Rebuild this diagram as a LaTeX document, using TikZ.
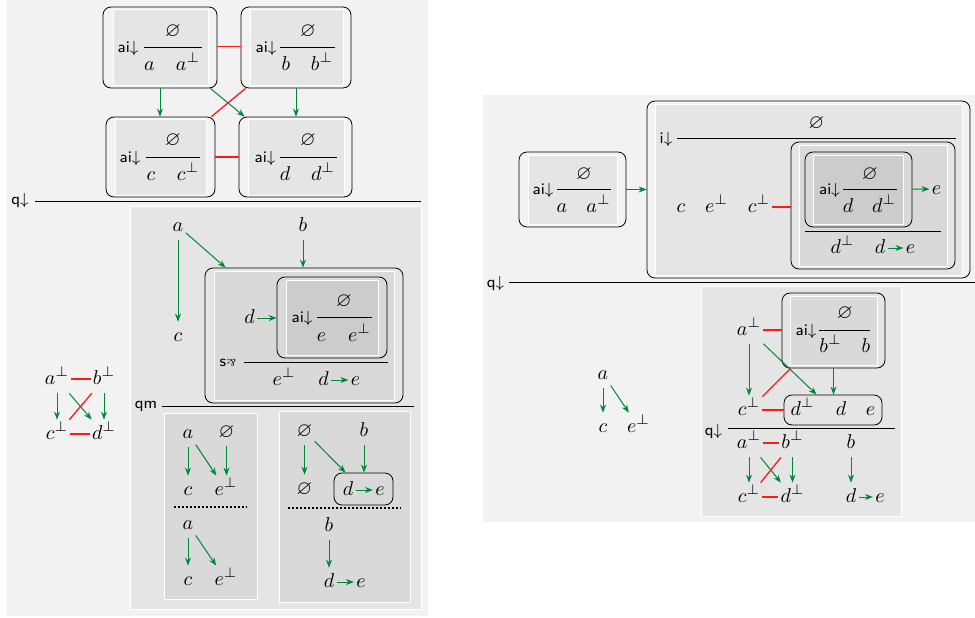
\documentclass[tikz,border=0pt]{standalone}
\usepackage{amsmath, amssymb}
\usepackage{graphicx}
\usetikzlibrary{arrows.meta, positioning, fit, calc}
\definecolor{flowgreen}{RGB}{0,136,55}

\begin{document}
\begin{tikzpicture}[x=0.5pt, y=-0.5pt,
    bgpanel/.style={fill=gray!10},
    shadeone/.style={fill=gray!20, draw=white, inner sep=0},
    shadetwo/.style={fill=gray!30, draw=white, inner sep=0},
    shadethree/.style={fill=gray!40, draw=white, inner sep=0},
    derivbox/.style={draw, rounded corners=4pt, inner sep=0},
    atom/.style={anchor=base, inner sep=1pt, text height=8.5pt, text depth=3.5pt},
    rulelab/.style={font=\footnotesize\sffamily, inner sep=0},
    flowarr/.style={-{Stealth[length=4pt, width=3pt]}, draw=flowgreen, line width=0.5pt},
    redlink/.style={draw=red!90!white, line width=0.65pt},
    sepline/.style={line width=0.9pt, dash pattern=on 0.9pt off 1.1pt}]
    \useasboundingbox (0,0) rectangle (975,617);

    % Left derivation
    \fill[bgpanel] (7,0) rectangle (428,616);

    % premise: four axioms
    \node[shadeone, fit={(113,9) (208,85)}] (shA) {};
    \node[derivbox, fit={(103,7) (217,88)}] (boxA) {};
    \node[rulelab] (labA) at (128,48) {ai$\downarrow$};
    \draw (144,47) -- (202,47);
    \node[atom] (emA) at (173,36) {$\varnothing$};
    \node[atom] (aA) at (149.5,70) {$a$};
    \node[atom] (apA) at (188,70) {$a^\perp$};

    \node[shadeone, fit={(250,9) (343,85)}] (shB) {};
    \node[derivbox, fit={(241,7) (351,88)}] (boxB) {};
    \node[rulelab] (labB) at (266,48) {ai$\downarrow$};
    \draw (280,47) -- (335,47);
    \node[atom] (emB) at (308,36) {$\varnothing$};
    \node[atom] (bB) at (286,70) {$b$};
    \node[atom] (bpB) at (322,70) {$b^\perp$};

    \node[shadeone, fit={(115,119) (206,195)}] (shC) {};
    \node[derivbox, fit={(106,117) (215,197)}] (boxC) {};
    \node[rulelab] (labC) at (130,158) {ai$\downarrow$};
    \draw (146,157) -- (200,157);
    \node[atom] (emC) at (173,145) {$\varnothing$};
    \node[atom] (cC) at (151,180) {$c$};
    \node[atom] (cpC) at (188,180) {$c^\perp$};

    \node[shadeone, fit={(248,119) (344,195)}] (shD) {};
    \node[derivbox, fit={(239,117) (352,197)}] (boxD) {};
    \node[rulelab] (labD) at (265,158) {ai$\downarrow$};
    \draw (280,157) -- (337,157);
    \node[atom] (emD) at (308,145) {$\varnothing$};
    \node[atom] (dD) at (285,180) {$d$};
    \node[atom] (dpD) at (323,180) {$d^\perp$};

    \draw[redlink] ($(boxA.east)+(0,-1)$) -- ($(boxB.west)+(0,-1)$);
    \draw[redlink] (boxC) -- (boxD);
    \draw[flowarr] (boxA.south) -- (boxA.south |- boxC.north);
    \draw[flowarr] ($(boxA.south east)+(-7,0)$) -- ($(boxD.north west)+(6,0)$);
    \draw[redlink] ($(boxB.south west)+(5,0)$) -- ($(boxC.north east)+(-4,0)$);
    \draw[flowarr] (boxB.south) -- (boxB.south |- boxD.north);

    % q rule
    \node[rulelab] (labQA) at (20,200) {q$\downarrow$};
    \draw (35,201) -- (421,201);

    % conclusion, left part
    \node[atom] (apL) at (57,384) {$a^\perp$};
    \node[atom] (bpL) at (104,384) {$b^\perp$};
    \node[atom] (cpL) at (57,439) {$c^\perp$};
    \node[atom] (dpL) at (104,439) {$d^\perp$};
    \draw[redlink] (apL) -- (bpL);
    \draw[redlink] (cpL) -- (dpL);
    \draw[flowarr] (apL) -- (cpL);
    \draw[flowarr] (bpL) -- (dpL);
    \draw[flowarr] (apL) -- (dpL);
    \draw[redlink] (bpL) -- (cpL);

    % conclusion, medial part
    \node[shadeone, fit={(130,206) (421,609)}] (pnlM) {};
    \node[atom] (aM) at (178,231) {$a$};
    \node[atom] (bM) at (303,231) {$b$};
    \node[atom] (cM) at (178,341) {$c$};

    \node[shadetwo, fit={(214,271) (394,400)}] (shS) {};
    \node[derivbox, fit={(205,268) (403,403)}] (boxS) {};
    \node[shadethree, fit={(286,280) (378,355)}] (shE) {};
    \node[derivbox, fit={(277,277) (387,358)}] (boxE) {};
    \node[rulelab] (labE) at (302,318) {ai$\downarrow$};
    \draw (317,317) -- (372,317);
    \node[atom] (emE) at (344,306) {$\varnothing$};
    \node[atom] (eE) at (321.5,341) {$e$};
    \node[atom] (epE) at (359.5,341) {$e^\perp$};
    \node[atom] (dS) at (249.5,323) {$d$};
    \draw[flowarr] (dS.east) -- (dS.east -| boxE.west);
    \node[rulelab] (labS) at (228,363) {s\rotatebox[origin=c]{180}{\tiny\rmfamily\&}};
    \draw (244,362) -- (388,362);
    \node[atom] (epS) at (284,385) {$e^\perp$};
    \node[atom] (dS2) at (323.5,385) {$d$};
    \node[atom] (eS2) at (355.5,385) {$e$};
    \draw[flowarr] (dS2) -- (eS2);

    \draw[flowarr] (aM) -- (cM);
    \draw[flowarr] (aM) -- ($(boxS.north west)+(21,0)$);
    \draw[flowarr] (bM) -- (bM |- boxS.north);

    % qm rule
    \node[rulelab] (labQm) at (146,406) {qm};
    \draw (162,406) -- (414,406);

    \node[shadetwo, fit={(164,413) (257,599)}] (pnlP) {};
    \node[atom] (aP) at (188,438) {$a$};
    \node[atom] (emP) at (226.5,437) {$\varnothing$};
    \node[atom] (cP) at (188,495) {$c$};
    \node[atom] (epP) at (226,495) {$e^\perp$};
    \draw[flowarr] (aP) -- (cP);
    \draw[flowarr] (aP) -- (epP);
    \draw[flowarr] (emP) -- (emP |- epP.north);
    \draw[sepline] (174,507) -- (247,507);
    \node[atom] (aP2) at (188,529) {$a$};
    \node[atom] (cP2) at (188,585) {$c$};
    \node[atom] (epP2) at (226,585) {$e^\perp$};
    \draw[flowarr] (aP2) -- (cP2);
    \draw[flowarr] (aP2) -- (epP2);

    \node[shadetwo, fit={(279,411) (410,602)}] (pnlQ) {};
    \node[atom] (emQ) at (304.5,436) {$\varnothing$};
    \node[atom] (bQ) at (364,436) {$b$};
    \node[atom] (emQ2) at (304.5,494) {$\varnothing$};
    \node[derivbox, fit={(334,473) (393,505)}] (boxQ) {};
    \node[atom] (dQ) at (348,495) {$d$};
    \node[atom] (eQ) at (380,495) {$e$};
    \draw[flowarr] (dQ) -- (eQ);
    \draw[flowarr] (emQ) -- (emQ2);
    \draw[flowarr] (emQ) -- ($(boxQ.north west)+(12,0)$);
    \draw[flowarr] (bQ) -- (bQ |- boxQ.north);
    \draw[sepline] (288,508) -- (401,508);
    \node[atom] (bQ2) at (329,531) {$b$};
    \node[atom] (dQ2) at (329,587) {$d$};
    \node[atom] (eQ2) at (361,587) {$e$};
    \draw[flowarr] (bQ2) -- (dQ2);
    \draw[flowarr] (dQ2) -- (eQ2);

    % Right derivation
    \fill[bgpanel] (483,95) rectangle (975,522);

    \node[shadeone, fit={(528,155) (617,224)}] (shRa) {};
    \node[derivbox, fit={(519,152) (626,227)}] (boxRa) {};
    \node[rulelab] (labRa) at (543,190) {ai$\downarrow$};
    \draw (557,189) -- (611,189);
    \node[atom] (emRa) at (584,179) {$\varnothing$};
    \node[atom] (aRa) at (562,212) {$a$};
    \node[atom] (apRa) at (598.5,212) {$a^\perp$};

    \node[shadeone, fit={(655,104) (962,275)}] (shRi) {};
    \node[derivbox, fit={(647,101) (970,278)}] (boxRi) {};
    \draw[flowarr] (boxRa) -- (boxRi);
    \node[atom] (emRi) at (816.5,128) {$\varnothing$};
    \node[rulelab] (labRi) at (666,139) {i$\downarrow$};
    \draw (677,138) -- (956,138);
    \node[atom] (cRi) at (681,212) {$c$};
    \node[atom] (epRi) at (716.5,212) {$e^\perp$};
    \node[atom] (cpRi) at (759,212) {$c^\perp$};

    \node[shadetwo, fit={(799,145) (947,266)}] (shRm) {};
    \node[derivbox, fit={(791,142) (955,269)}] (boxRm) {};
    \draw[redlink] (cpRi.east) -- (cpRi.east -| boxRm.west);
    \node[shadethree, fit={(813,155) (903,224)}] (shRd) {};
    \node[derivbox, fit={(805,152) (912,227)}] (boxRd) {};
    \node[rulelab] (labRd) at (829.5,190) {ai$\downarrow$};
    \draw (843,189) -- (897,189);
    \node[atom] (emRd) at (870,179) {$\varnothing$};
    \node[atom] (dRd) at (848,212) {$d$};
    \node[atom] (dpRd) at (884,212) {$d^\perp$};
    \node[atom] (eRd) at (936.5,194) {$e$};
    \draw[flowarr] (boxRd) -- (eRd);
    \draw (805,231) -- (941,231);
    \node[atom] (dpRm) at (842.5,253) {$d^\perp$};
    \node[atom] (dRm) at (880,253) {$d$};
    \node[atom] (eRm) at (910.5,253) {$e$};
    \draw[flowarr] (dRm) -- (eRm);

    % q rule
    \node[rulelab] (labQR) at (495.5,283) {q$\downarrow$};
    \draw (509,282) -- (975,282);

    \node[atom] (aRl) at (603,379) {$a$};
    \node[atom] (cRl) at (603,432) {$c$};
    \node[atom] (epRl) at (638.5,432) {$e^\perp$};
    \draw[flowarr] (aRl) -- (cRl);
    \draw[flowarr] (aRl) -- (epRl);

    \node[shadeone, fit={(701,286) (901,516)}] (pnlR) {};
    \node[atom] (apR) at (749,335) {$a^\perp$};
    \node[shadetwo, fit={(790,296) (877,365)}] (shRb) {};
    \node[derivbox, fit={(782,293) (885,368)}] (boxRb) {};
    \node[rulelab] (labRb) at (806,331) {ai$\downarrow$};
    \draw (819,330) -- (870,330);
    \node[atom] (emRb) at (845,318) {$\varnothing$};
    \node[atom] (bpRb) at (830.5,352) {$b^\perp$};
    \node[atom] (bRb) at (866,352) {$b$};
    \node[atom] (cpR) at (749,415) {$c^\perp$};
    \node[derivbox, fit={(784,395) (882,425)}] (boxRde) {};
    \node[atom] (dpR) at (802.5,415) {$d^\perp$};
    \node[atom] (dR) at (841,415) {$d$};
    \node[atom] (eR) at (870.5,415) {$e$};
    \draw[redlink] (apR.east) -- (apR.east -| boxRb.west);
    \draw[flowarr] (apR) -- (cpR);
    \draw[flowarr] (apR) -- ($(boxRde.north west)+(33,0)$);
    \draw[flowarr] (boxRb.south) -- (boxRb.south |- boxRde.north);
    \draw[redlink] ($(boxRb.south west)+(9,0)$) -- (cpR);
    \draw[redlink] (cpR.east) -- (cpR.east -| boxRde.west);

    \node[rulelab] (labQR2) at (713.5,431) {q$\downarrow$};
    \draw (728,428) -- (895,428);
    \node[atom] (apR2) at (749,448) {$a^\perp$};
    \node[atom] (bpR2) at (792.5,448) {$b^\perp$};
    \node[atom] (bR2) at (851,448) {$b$};
    \node[atom] (cpR2) at (749,502) {$c^\perp$};
    \node[atom] (dpR2) at (792.5,502) {$d^\perp$};
    \node[atom] (dR2) at (851,502) {$d$};
    \node[atom] (eR2) at (880,502) {$e$};
    \draw[redlink] (apR2) -- (bpR2);
    \draw[redlink] (cpR2) -- (dpR2);
    \draw[flowarr] (apR2) -- (cpR2);
    \draw[flowarr] (bpR2) -- (dpR2);
    \draw[flowarr] (apR2) -- (dpR2);
    \draw[redlink] (bpR2) -- (cpR2);
    \draw[flowarr] (bR2) -- (dR2);
    \draw[flowarr] (dR2) -- (eR2);
\end{tikzpicture}
\end{document}
